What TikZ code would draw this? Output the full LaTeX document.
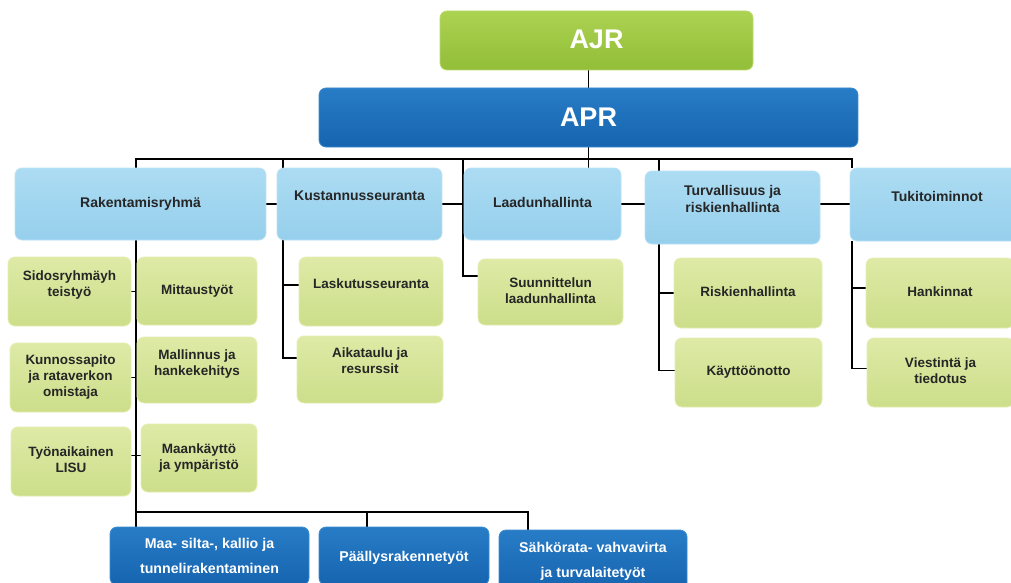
\documentclass[tikz,border=0pt]{standalone}
\usepackage{fontspec}
\setmainfont{Liberation Sans}
\usetikzlibrary{calc}
\pgfdeclarelayer{bg}
\pgfsetlayers{bg,main}
\definecolor{lbtop}{RGB}{172,220,243}
\definecolor{lbbot}{RGB}{150,207,236}
\definecolor{lbdraw}{RGB}{185,226,246}
\definecolor{lgtop}{RGB}{222,234,166}
\definecolor{lgbot}{RGB}{204,222,138}
\definecolor{lgdraw}{RGB}{228,238,178}
\definecolor{dbtop}{RGB}{40,124,198}
\definecolor{dbbot}{RGB}{22,100,176}
\definecolor{dbdraw}{RGB}{60,140,210}
\definecolor{agtop}{RGB}{172,210,82}
\definecolor{agbot}{RGB}{146,190,56}
\definecolor{agdraw}{RGB}{186,218,110}
\definecolor{txt}{RGB}{38,38,38}
\newcommand{\lbl}[2][0pt]{\raisebox{#1}[\height][\depth]{\begin{tabular}{@{}c@{}}#2\end{tabular}}}
\begin{document}
\begin{tikzpicture}[x=1pt,y=-1pt,
  box/.style={rounded corners=7pt, inner sep=0pt, outer sep=0pt, anchor=center, line width=0.8pt},
  sz/.style 2 args={minimum width=#1, minimum height=#2},
  lb/.style={box, top color=lbtop, bottom color=lbbot, draw=lbdraw, text=txt, font=\bfseries\fontsize{14}{17}\selectfont},
  lg/.style={box, top color=lgtop, bottom color=lgbot, draw=lgdraw, text=txt, font=\bfseries\fontsize{13.5}{16}\selectfont},
  db/.style={box, top color=dbtop, bottom color=dbbot, draw=dbdraw, text=white, font=\bfseries\fontsize{14.2}{25.7}\selectfont},
  top/.style={box, text=white, font=\bfseries\fontsize{27}{32}\selectfont},
  conn/.style={line width=1.4pt, black}]
\useasboundingbox (0,0) rectangle (1011,583);
% top
\node[top, sz={313}{59}, top color=agtop, bottom color=agbot, draw=agdraw] (ajr) at (596.5,40.5) {\lbl[-2pt]{AJR}};
\node[top, sz={539}{59}, top color=dbtop, bottom color=dbbot, draw=dbdraw] (apr) at (588.5,117.5) {\lbl[-3pt]{APR}};
% second level
\node[lb, sz={251}{72}] (rak) at (140.5,204) {\lbl{Rakentamisryhmä}};
\node[lb, sz={165}{72}] (kus) at (359.5,204) {\lbl[7pt]{Kustannusseuranta}};
\node[lb, sz={157}{72}] (laa) at (542.5,204) {\lbl{Laadunhallinta}};
\node[lb, sz={175}{73}] (tur) at (732.5,207.5) {\lbl[7pt]{Turvallisuus ja\\riskienhallinta}};
\node[lb, sz={174}{73}] (tuk) at (937,204.5) {\lbl[6.5pt]{Tukitoiminnot}};
% third level
\node[lg, sz={123}{69}] (sid) at (69.5,291.5) {\lbl[6pt]{Sidosryhmäyh\\teistyö}};
\node[lg, sz={120}{68}] (mit) at (197,291) {\lbl{Mittaustyöt}};
\node[lg, sz={121}{69}] (kun) at (70.5,377.5) {\lbl{Kunnossapito\\ja rataverkon\\omistaja}};
\node[lg, sz={120}{66}] (mal) at (197,370) {\lbl[5.5pt]{Mallinnus ja\\hankekehitys}};
\node[lg, sz={120}{69}] (tyo) at (71,461.5) {\lbl{Työnaikainen\\LISU}};
\node[lg, sz={116}{68}] (maan) at (199,458) {\lbl{Maankäyttö\\ja ympäristö}};
\node[lg, sz={144}{69}] (las) at (371,291.5) {\lbl[6.5pt]{Laskutusseuranta}};
\node[lg, sz={146}{67}] (aik) at (370,369.5) {\lbl[7pt]{Aikataulu ja\\resurssit}};
\node[lg, sz={145}{66}] (suu) at (550.5,292) {\lbl{Suunnittelun\\laadunhallinta}};
\node[lg, sz={148}{70}] (ris) at (748,293) {\lbl{Riskienhallinta}};
\node[lg, sz={147}{69}] (kay) at (748.5,372.5) {\lbl{Käyttöönotto}};
\node[lg, sz={148}{70}] (han) at (940,293) {\lbl{Hankinnat}};
\node[lg, sz={147}{69}] (vie) at (940.5,372.5) {\lbl{Viestintä ja\\tiedotus}};
% bottom
\node[db, sz={199}{58}] (maa) at (209.5,556) {\lbl{Maa- silta-, kallio ja\\tunnelirakentaminen}};
\node[db, sz={170}{58}] (pae) at (404,556) {\lbl{Päällysrakennetyöt}};
\node[db, sz={188}{60}] (sah) at (593,560) {\lbl{Sähkörata- vahvavirta\\ja turvalaitetyöt}};
% connectors
\coordinate (busy) at (0,159);
\coordinate (boty) at (0,512);
\coordinate (x136) at (136,0);
\coordinate (x283) at (283,0);
\coordinate (x463) at (463,0);
\coordinate (x659) at (659,0);
\coordinate (x852) at (852,0);
\coordinate (x367) at (367,0);
\coordinate (x528) at (528,0);
\begin{pgfonlayer}{bg}
\fill[white] (0,0) rectangle (1011,583);
\draw[conn] (apr.north) -- (apr.north |- ajr.south);
\draw[conn] (apr.south) -- (apr.south |- laa.north);
\draw[conn] (x136 |- rak.north) -- (x136 |- busy) -- (x852 |- busy) -- (x852 |- tuk.north);
\draw[conn] (rak.east) -- (rak.east -| tuk.west);
\draw[conn] (x283 |- busy) |- ([yshift=11.5pt]aik.west);
\draw[conn] (x283 |- las.west) ++(0,-6.5) -- ([yshift=6.5pt]las.west);
\draw[conn] (x463 |- busy) |- ([yshift=16pt]suu.west);
\draw[conn] (x659 |- busy) |- ([yshift=2pt]kay.west);
\draw[conn] (x659 |- ris.west) -- (ris.west);
\draw[conn] (x852 |- tuk.south) |- ([yshift=4pt]vie.west);
\draw[conn] ([yshift=5pt]han.west) -- ([yshift=5pt]han.west -| x852);
\draw[conn] (x136 |- rak.south) -- (x136 |- maa.north);
\draw[conn] (sid.east) -- (sid.east -| mit.west);
\draw[conn] (kun.east) -- (kun.east -| mal.west);
\draw[conn] ([yshift=6pt]tyo.east) -- ([yshift=6pt]tyo.east -| maan.west);
\draw[conn] (x136 |- boty) -- (x528 |- boty) -- (x528 |- sah.north);
\draw[conn] (x367 |- boty) -- (x367 |- pae.north);
\end{pgfonlayer}
\end{tikzpicture}
\end{document}
